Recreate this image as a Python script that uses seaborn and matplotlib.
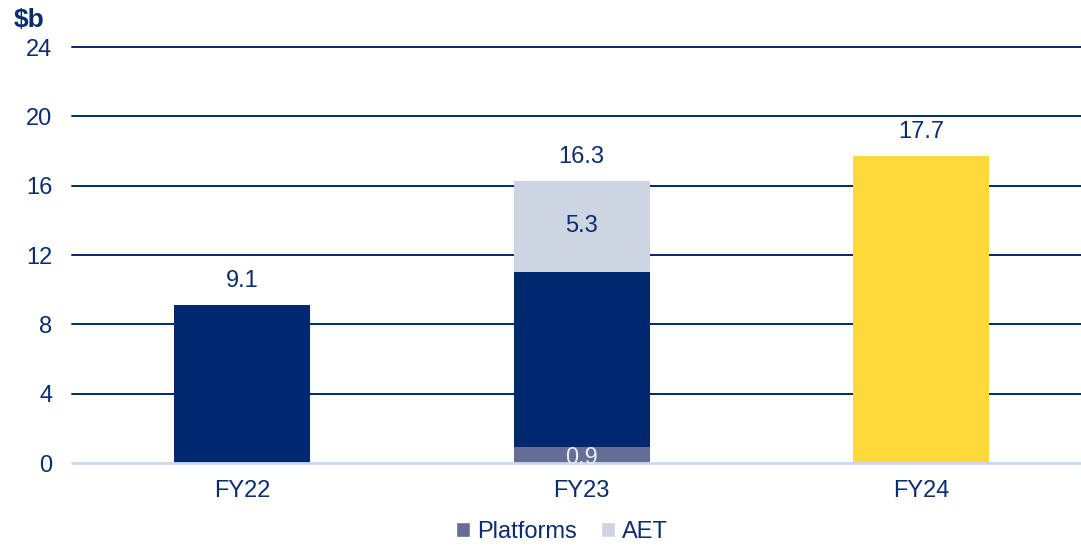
import matplotlib
matplotlib.use("Agg")
import matplotlib.pyplot as plt
from matplotlib.patches import Patch
import seaborn as sns
import pandas as pd

categories = ["FY22", "FY23", "FY24"]
totals = [9.1, 16.3, 17.7]
fy23_platforms = 0.9
fy23_aet = 5.3
fy23_core = 10.1
yticks = [0, 4, 8, 12, 16, 20, 24]
legend_labels = ["Platforms", "AET"]

NAVY = "#00286E"
SLATE = "#646E96"
AET_C = "#CDD5E3"
YELLOW = "#FFD83A"
TXT = "#0B2C6E"
FS = 17

sns.set_theme(style="white")
plt.rcParams["font.family"] = ["Liberation Sans", "DejaVu Sans"]

fig = plt.figure(figsize=(10.81, 5.48), dpi=100)
ax = fig.add_axes([0.0666, 0.155, 0.9334, 0.759])

# layer 1: full heights
df_top = pd.DataFrame({"cat": categories, "val": totals})
sns.barplot(data=df_top, x="cat", y="val", hue="cat", order=categories,
            hue_order=categories, palette=[NAVY, AET_C, YELLOW], dodge=False,
            width=0.4, legend=False, ax=ax, zorder=3, saturation=1, linewidth=0)
# layer 2: FY23 navy part (platforms + core)
df_mid = pd.DataFrame({"cat": ["FY23"], "val": [fy23_platforms + fy23_core]})
sns.barplot(data=df_mid, x="cat", y="val", order=categories, color=NAVY,
            width=0.4, ax=ax, zorder=4, saturation=1, linewidth=0)
# layer 3: FY23 platforms
df_bot = pd.DataFrame({"cat": ["FY23"], "val": [fy23_platforms]})
sns.barplot(data=df_bot, x="cat", y="val", order=categories, color=SLATE,
            width=0.4, ax=ax, zorder=5, saturation=1, linewidth=0)

ax.set_ylim(0, 24)
ax.set_xlim(-0.5, 2.47)
ax.set_yticks(yticks)
ax.set_yticklabels([str(t) for t in yticks])
for t in yticks[1:]:
    ax.axhline(t, color=NAVY, lw=1.4, zorder=1, clip_on=False)
ax.axhline(0, color="#C5D9F1", lw=2, zorder=6, clip_on=False)

for s in ax.spines.values():
    s.set_visible(False)
ax.set_xlabel("")
ax.set_ylabel("")
ax.tick_params(axis="y", length=0, pad=14, labelsize=FS, labelcolor=TXT)
ax.tick_params(axis="x", length=0, pad=12, labelsize=FS, labelcolor=TXT)

# value labels
for i, v in enumerate(totals):
    ax.text(i, v + 0.75, f"{v:.1f}", ha="center", va="bottom", fontsize=FS, color=TXT, zorder=7)
ax.text(1, fy23_platforms + fy23_core + fy23_aet / 2, f"{fy23_aet:.1f}", ha="center", va="center",
        fontsize=FS, color=TXT, zorder=7)
ax.text(1, 0.3, f"{fy23_platforms:.1f}", ha="center", va="center", fontsize=FS,
        color="#E8ECF4", zorder=7)

fig.text(0.013, 0.985, "$b", fontsize=19, fontweight="bold", color=TXT, ha="left", va="top")

handles = [Patch(facecolor=SLATE, label=legend_labels[0]), Patch(facecolor=AET_C, label=legend_labels[1])]
fig.legend(handles=handles, loc="lower center", bbox_to_anchor=(0.52, -0.03), ncol=2, frameon=False,
           fontsize=FS, handlelength=0.6, handleheight=0.6, handletextpad=0.3, columnspacing=1.0,
           labelcolor=TXT)

fig.savefig("out.png", dpi=100)
